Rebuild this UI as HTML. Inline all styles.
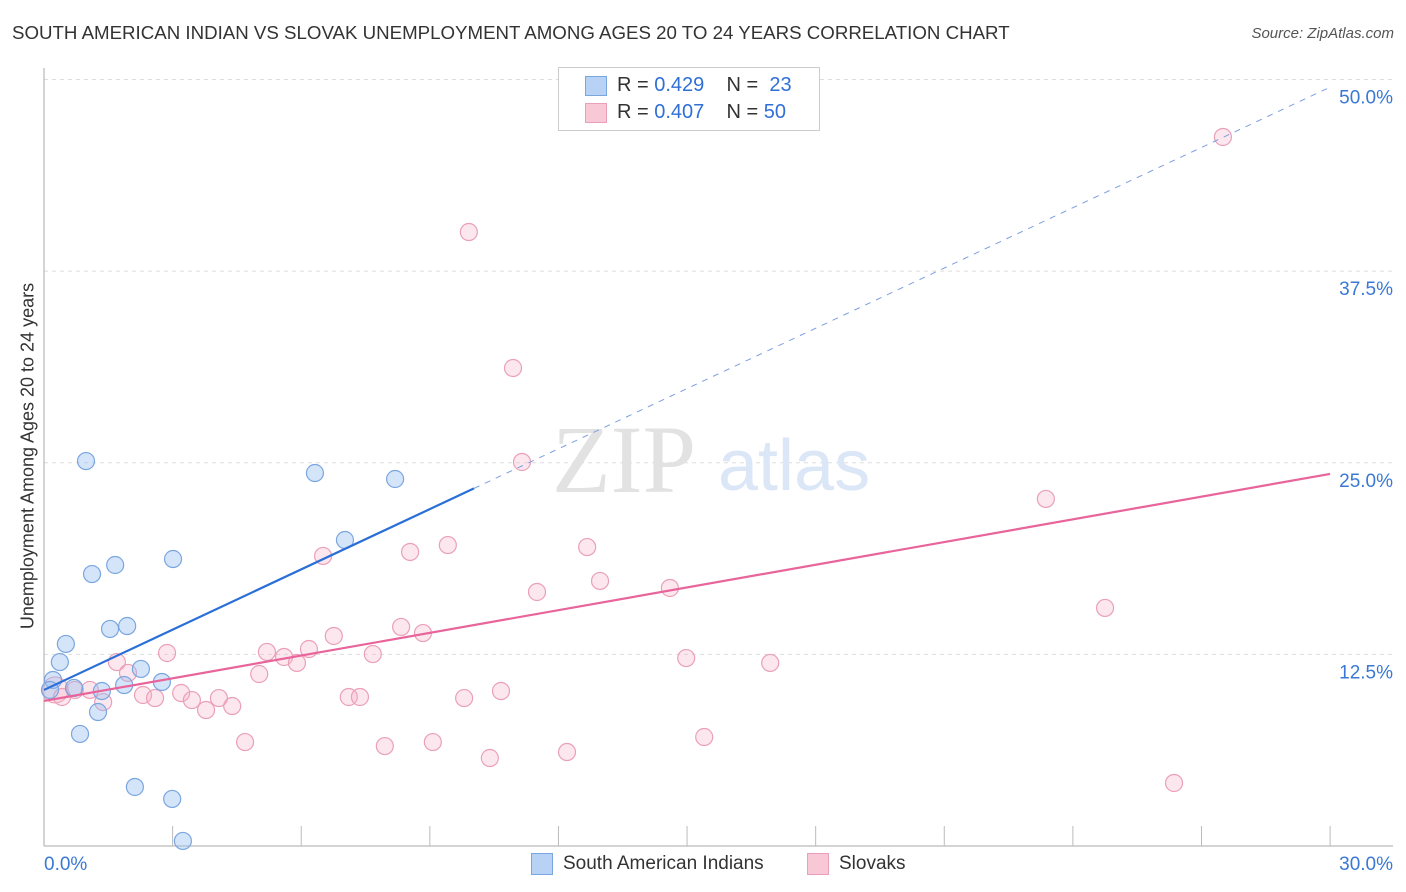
<!DOCTYPE html>
<html><head><meta charset="utf-8"><style>
body{margin:0;background:#fff;font-family:"Liberation Sans",sans-serif;}
#wrap{position:relative;width:1406px;height:892px;overflow:hidden;}
.t{position:absolute;white-space:nowrap;}
</style></head><body>
<div id="wrap">
<div class="t" style="left:12px;top:22px;font-size:18.7px;color:#333;">SOUTH AMERICAN INDIAN VS SLOVAK UNEMPLOYMENT AMONG AGES 20 TO 24 YEARS CORRELATION CHART</div>
<div class="t" style="right:12px;top:25px;font-size:15px;color:#555;font-style:italic;">Source: ZipAtlas.com</div>
<div class="t" style="left:28px;top:456px;font-size:18px;color:#333;transform:translate(-50%,-50%) rotate(-90deg);">Unemployment Among Ages 20 to 24 years</div>
<svg id="plot" width="1406" height="892" style="position:absolute;left:0;top:0"></svg>
<div style="position:absolute;left:558px;top:67px;width:260px;height:62px;border:1px solid #ccc;background:#fff;font-size:20px;">
 <div style="position:absolute;left:26px;top:8px;width:20px;height:18px;background:#b8d2f5;border:1px solid #7aa6e0;"></div>
 <div class="t" style="left:58px;top:6px;color:#333">R = <span style="color:#2f6fd6">0.429</span>&nbsp;&nbsp;&nbsp; N = &nbsp;<span style="color:#2f6fd6">23</span></div>
 <div style="position:absolute;left:26px;top:35px;width:20px;height:18px;background:#f8c8d6;border:1px solid #eaa0b8;"></div>
 <div class="t" style="left:58px;top:33px;color:#333">R = <span style="color:#2f6fd6">0.407</span>&nbsp;&nbsp;&nbsp; N = <span style="color:#2f6fd6">50</span></div>
</div>
<div style="position:absolute;left:531px;top:853px;width:20px;height:20px;background:#b8d2f5;border:1px solid #7aa6e0;"></div>
<div class="t" style="left:563px;top:853px;font-size:19px;color:#333">South American Indians</div>
<div style="position:absolute;left:807px;top:853px;width:20px;height:20px;background:#f8c8d6;border:1px solid #eaa0b8;"></div>
<div class="t" style="left:839px;top:853px;font-size:19px;color:#333">Slovaks</div>
</div>
<script>
const blueX=[0.21,0.14,0.37,0.51,0.70,0.98,1.12,1.26,1.35,0.84,1.54,1.66,1.94,1.87,2.26,2.12,2.75,3.01,2.99,3.24,6.32,7.02,8.19];
const blueY=[10.83,10.18,12.00,13.18,10.31,25.11,17.74,8.74,10.11,7.31,14.16,18.33,14.35,10.50,11.55,3.85,10.70,18.72,3.07,0.33,24.33,19.96,23.94];
const pinkX=[27.50,9.91,10.94,11.15,23.37,9.42,12.67,6.51,8.54,12.97,11.50,14.60,24.75,8.33,8.84,6.76,6.18,5.20,5.60,7.67,5.90,2.87,1.70,14.98,16.94,5.02,1.96,0.26,0.42,0.72,1.07,1.38,2.31,2.59,3.20,3.45,3.78,4.08,4.39,7.11,7.37,9.80,10.66,4.69,7.95,9.07,10.40,12.20,15.40,26.36];
const pinkY=[46.25,40.05,31.18,25.05,22.64,19.63,19.50,18.92,19.18,17.29,16.57,16.83,15.53,14.29,13.89,13.70,12.85,12.66,12.33,12.52,11.94,12.59,12.00,12.26,11.94,11.22,11.29,10.18,9.72,10.18,10.18,9.39,9.85,9.65,9.98,9.52,8.87,9.65,9.13,9.72,9.72,9.65,10.11,6.78,6.52,6.78,5.74,6.13,7.11,4.11];
const blueTrend=[10.18,49.5,10.03];
const pinkTrend=[9.46,24.27];
const yTicks=[12.5,25,37.5,50];
const yTickLabels=["12.5%","25.0%","37.5%","50.0%"];
const xTicks=[3,6,9,12,15,18,21,24,27,30];

const NS="http://www.w3.org/2000/svg";
const svg=document.getElementById('plot');
const X=v=>44+v*42.87, Y=v=>846-v*15.33;
function mk(t,a){const e=document.createElementNS(NS,t);for(const k in a)e.setAttribute(k,a[k]);svg.appendChild(e);return e;}
yTicks.forEach((v,i)=>{
 const g=mk('line',{x1:44,x2:1393,y1:Y(v),y2:Y(v),stroke:'#ddd','stroke-dasharray':'4,4'});
 
 
 const t=mk('text',{x:1393,y:Y(v)+24,'text-anchor':'end','font-size':19,fill:'#3a78d4','font-family':'Liberation Sans, sans-serif'});
 t.textContent=yTickLabels[i];
 
 
});
let ax=mk('line',{x1:44,x2:44,y1:68,y2:846,stroke:'#aaa'});


ax=mk('line',{x1:44,x2:1393,y1:846,y2:846,stroke:'#aaa'});


xTicks.forEach(v=>{const l=mk('line',{x1:X(v),x2:X(v),y1:826,y2:846,stroke:'#bbb'});
 
 });
let tl=mk('text',{x:44,y:870,'font-size':19,fill:'#3a78d4','font-family':'Liberation Sans, sans-serif'});tl.textContent='0.0%';


tl=mk('text',{x:1393,y:870,'text-anchor':'end','font-size':19,fill:'#3a78d4','font-family':'Liberation Sans, sans-serif'});tl.textContent='30.0%';


let w=mk('text',{x:552,y:492,'font-size':96,fill:'#e2e2e2','font-family':'Liberation Serif, serif'});w.textContent='ZIP';


w=mk('text',{x:718,y:490,'font-size':72,fill:'#dbe6f6','font-family':'Liberation Sans, sans-serif'});w.textContent='atlas';


pinkX.forEach((x,i)=>{const c=mk('circle',{cx:X(x),cy:Y(pinkY[i]),r:i==27?13:8.5,fill:'rgba(245,175,198,0.3)',stroke:'#eaa0b8','stroke-width':1.2});
 
 });
blueX.forEach((x,i)=>{const c=mk('circle',{cx:X(x),cy:Y(blueY[i]),r:8.5,fill:'rgba(150,190,240,0.4)',stroke:'#7aa6e0','stroke-width':1.2});
 
 });
const bs=(blueTrend[1]-blueTrend[0])/30;
let l=mk('line',{x1:X(0),y1:Y(blueTrend[0]),x2:X(blueTrend[2]),y2:Y(blueTrend[0]+bs*blueTrend[2]),stroke:'#2a6fd8','stroke-width':2.2});


l=mk('line',{x1:X(blueTrend[2]),y1:Y(blueTrend[0]+bs*blueTrend[2]),x2:X(30),y2:Y(blueTrend[1]),stroke:'#7d9ee0','stroke-width':1,'stroke-dasharray':'6,6'});


l=mk('line',{x1:X(0),y1:Y(pinkTrend[0]),x2:X(30),y2:Y(pinkTrend[1]),stroke:'#e8649a','stroke-width':2.2});


</script>
</body></html>
